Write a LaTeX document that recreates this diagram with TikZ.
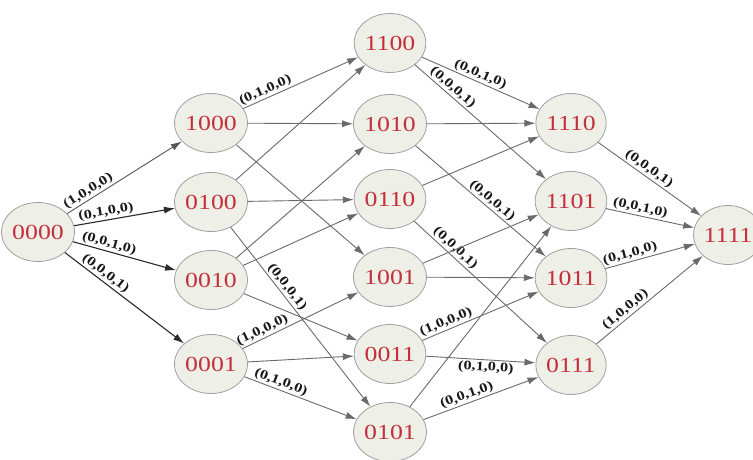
\documentclass[tikz,border=0pt]{standalone}
\usepackage{fontspec}
\usepackage{graphicx}
\setmainfont{Liberation Serif}
\usetikzlibrary{shapes.geometric,arrows.meta}
\definecolor{nodefill}{HTML}{EEEFE6}
\definecolor{nodeline}{HTML}{A0A0A0}
\definecolor{numred}{HTML}{C4303C}
\definecolor{edgegray}{HTML}{6A6A6A}
\definecolor{edgedark}{HTML}{2A2A2A}
\newcommand{\stx}[1]{\scalebox{1.2}[1]{#1}}
\newcommand{\lbx}[1]{\scalebox{1.25}[1]{#1}}
\begin{document}
\begin{tikzpicture}[x=1pt,y=-1pt,
 state/.style={ellipse, draw=nodeline, line width=0.8pt, fill=nodefill, minimum width=63pt, minimum height=59pt, inner sep=0pt, font=\fontsize{21.5}{21.5}\selectfont, text=numred},
 arr/.style={draw=edgegray, line width=0.9pt, -{Latex[length=11pt,width=7pt]}},
 arrd/.style={arr, draw=edgedark, line width=1.1pt},
 lbl/.style={sloped, above, inner sep=1.5pt, font=\fontsize{13}{13}\selectfont\bfseries, text=black!90},
 lblb/.style={lbl, below}
]
\useasboundingbox (0,0) rectangle (753,460);
% layer 0
\node[state] (n0000) at (38,232) {\stx{0000}};
% layer 1
\node[state] (n1000) at (211,123) {\stx{1000}};
\node[state] (n0100) at (211,202) {\stx{0100}};
\node[state] (n0010) at (211,280) {\stx{0010}};
\node[state] (n0001) at (211,364) {\stx{0001}};
% layer 2
\node[state] (n1100) at (390,43) {\stx{1100}};
\node[state] (n1010) at (390,124) {\stx{1010}};
\node[state] (n0110) at (390,199) {\stx{0110}};
\node[state] (n1001) at (390,277) {\stx{1001}};
\node[state] (n0011) at (390,354) {\stx{0011}};
\node[state] (n0101) at (390,432) {\stx{0101}};
% layer 3
\node[state] (n1110) at (571,123) {\stx{1110}};
\node[state] (n1101) at (571,201) {\stx{1101}};
\node[state] (n1011) at (571,278) {\stx{1011}};
\node[state] (n0111) at (571,365) {\stx{0111}};
% layer 4
\node[state] (n1111) at (728,235) {\stx{1111}};

% edges from 0000
\draw[arr, draw=edgegray!80!black] (n0000) -- node[lbl, pos=0.22] {\lbx{(1,0,0,0)}} (n1000);
\draw[arrd] (n0000) -- node[lbl, pos=0.33] {\lbx{(0,1,0,0)}} (n0100);
\draw[arrd] (n0000) -- node[lbl, pos=0.33] {\lbx{(0,0,1,0)}} (n0010);
\draw[arrd] (n0000) -- node[lbl, pos=0.3] {\lbx{(0,0,0,1)}} (n0001);
% layer 1 -> 2
\draw[arr] (n1000) -- node[lbl, pos=0.22] {\lbx{(0,1,0,0)}} (n1100);
\draw[arr] (n1000) -- (n1010);
\draw[arr] (n1000) -- (n1001);
\draw[arr] (n0100) -- (n1100);
\draw[arr] (n0100) -- (n0110);
\draw[arr] (n0100) -- node[lbl, pos=0.36] {\lbx{(0,0,0,1)}} (n0101);
\draw[arr] (n0010) -- (n1010);
\draw[arr] (n0010) -- (n0110);
\draw[arr] (n0010) -- (n0011);
\draw[arr] (n0001) -- node[lbl, pos=0.2] {\lbx{(1,0,0,0)}} (n1001);
\draw[arr] (n0001) -- (n0011);
\draw[arr] (n0001) -- node[lbl, pos=0.3] {\lbx{(0,1,0,0)}} (n0101);
% layer 2 -> 3
\draw[arr] (n1100) -- node[lbl, pos=0.47] {\lbx{(0,0,1,0)}} (n1110);
\draw[arr] (n1100) -- node[lbl, pos=0.25] {\lbx{(0,0,0,1)}} (n1101);
\draw[arr] (n1010) -- (n1110);
\draw[arr] (n1010) -- node[lbl, pos=0.55] {\lbx{(0,0,0,1)}} (n1011);
\draw[arr] (n0110) -- (n1110);
\draw[arr] (n0110) -- node[lbl, pos=0.27] {\lbx{(0,0,0,1)}} (n0111);
\draw[arr] (n1001) -- (n1101);
\draw[arr] (n1001) -- (n1011);
\draw[arr] (n0011) -- node[lbl, pos=0.23] {\lbx{(1,0,0,0)}} (n1011);
\draw[arr] (n0011) -- node[lblb, pos=0.55] {\lbx{(0,1,0,0)}} (n0111);
\draw[arr] (n0101) -- (n1101);
\draw[arr] (n0101) -- node[lbl, pos=0.4] {\lbx{(0,0,1,0)}} (n0111);
% layer 3 -> 4
\draw[arr] (n1110) -- node[lbl, pos=0.45] {\lbx{(0,0,0,1)}} (n1111);
\draw[arr] (n1101) -- node[lbl, pos=0.37] {\lbx{(0,0,1,0)}} (n1111);
\draw[arr] (n1011) -- node[lbl, pos=0.3] {\lbx{(0,1,0,0)}} (n1111);
\draw[arr] (n0111) -- node[lbl, pos=0.32] {\lbx{(1,0,0,0)}} (n1111);
\end{tikzpicture}
\end{document}
